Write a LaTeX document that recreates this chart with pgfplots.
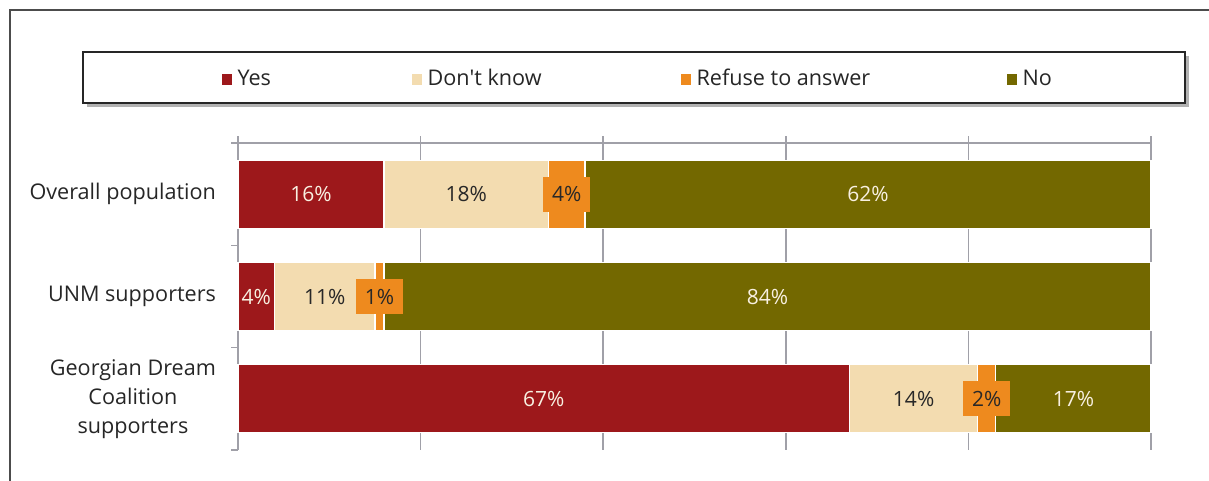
\documentclass[border=0pt]{standalone}
\usepackage{pgfplots}
\pgfplotsset{compat=1.18}
\usepackage{fontspec}
\setmainfont{Open Sans}
\newfontfamily\plainfont{Open Sans}
\definecolor{cyes}{RGB}{157,24,27}
\definecolor{cdk}{RGB}{243,220,176}
\definecolor{cref}{RGB}{238,138,30}
\definecolor{cno}{RGB}{115,104,0}
\definecolor{cgrid}{RGB}{160,160,168}
\definecolor{clight}{RGB}{248,240,225}
\definecolor{cdark}{RGB}{40,40,40}
\begin{document}
\begin{tikzpicture}
\begin{scope}[x=0.5pt,y=-0.5pt]
\useasboundingbox (0,0) rectangle (1209,481);
\draw[color=black!70, line width=0.6pt] (10,481) -- (10,10) -- (1209,10);
\fill[black!30] (87,56) rectangle (1189,107);
\draw[fill=white, line width=0.8pt, draw=black!85] (83,52) rectangle (1185,103);
\end{scope}
\begin{axis}[
  at={(119pt,-225pt)}, anchor=south west,
  xbar stacked, bar width=34pt,
  width=456.5pt, height=153.5pt, scale only axis,
  xmin=0, xmax=100, ymin=-0.5, ymax=2.5, y dir=reverse,
  axis x line=top, axis y line=left,
  axis line style={cgrid, line width=0.8pt, -},
  xtick={0,20,...,100}, xticklabels={},
  xmajorgrids, grid style={cgrid, line width=0.8pt},
  tick align=outside, major tick length=3.5pt, minor tick length=3.5pt,
  x tick style={cgrid, line width=0.8pt},
  ytick={0,1,2},
  yticklabels={Overall population, UNM supporters, {Georgian Dream\\Coalition\\supporters}},
  minor ytick={-0.5,0.5,1.5,2.5},
  major y tick style={draw=none},
  minor y tick style={cgrid, line width=0.8pt},
  yticklabel style={align=center, font=\fontsize{10.8}{14.5}\selectfont, text=black!85, xshift=-4pt},
  clip=false,
  /pgf/number format/assume math mode=true,
  visualization depends on=rawx \as \rawx,
  nodes near coords={\pgfmathprintnumber{\rawx}\%},
  every node near coord/.append style={anchor=center, font=\fontsize{10.5}{12}\selectfont},
  legend columns=4,
  legend cell align=left,
  legend style={draw=none, fill=none, at={(axis description cs:-0.025,1.208)}, anchor=west,
    font=\fontsize{10.8}{12}\selectfont, text=black!85,
    /tikz/every even column/.append style={column sep=0pt}},
  legend image code/.code={\fill[#1,draw=none] (0pt,-2.8pt) rectangle (5pt,2.8pt);},
]
\addplot[fill=cyes, draw=white, line width=0.6pt, every node near coord/.append style={text=clight}]
  coordinates {(16,0) (4,1) (67,2)};
\addlegendentry{\hspace{1pt}\makebox[85pt][l]{Yes}}
\addplot[fill=cdk, draw=white, line width=0.6pt, every node near coord/.append style={text=cdark}]
  coordinates {(18,0) (11,1) (14,2)};
\addlegendentry{\hspace{1pt}\makebox[124.5pt][l]{Don{\plainfont '}t know}}
\addplot[fill=cref, draw=white, line width=0.6pt, every node near coord/.append style={text=cdark, fill=cref, inner xsep=4.5pt, minimum height=17.5pt}]
  coordinates {(4,0) (1,1) (2,2)};
\addlegendentry{\hspace{1pt}\makebox[153pt][l]{Refuse to answer}}
\addplot[fill=cno, draw=white, line width=0.6pt, every node near coord/.append style={text=clight}]
  coordinates {(62,0) (84,1) (17,2)};
\addlegendentry{\hspace{1pt}No}
\end{axis}
\end{tikzpicture}
\end{document}
